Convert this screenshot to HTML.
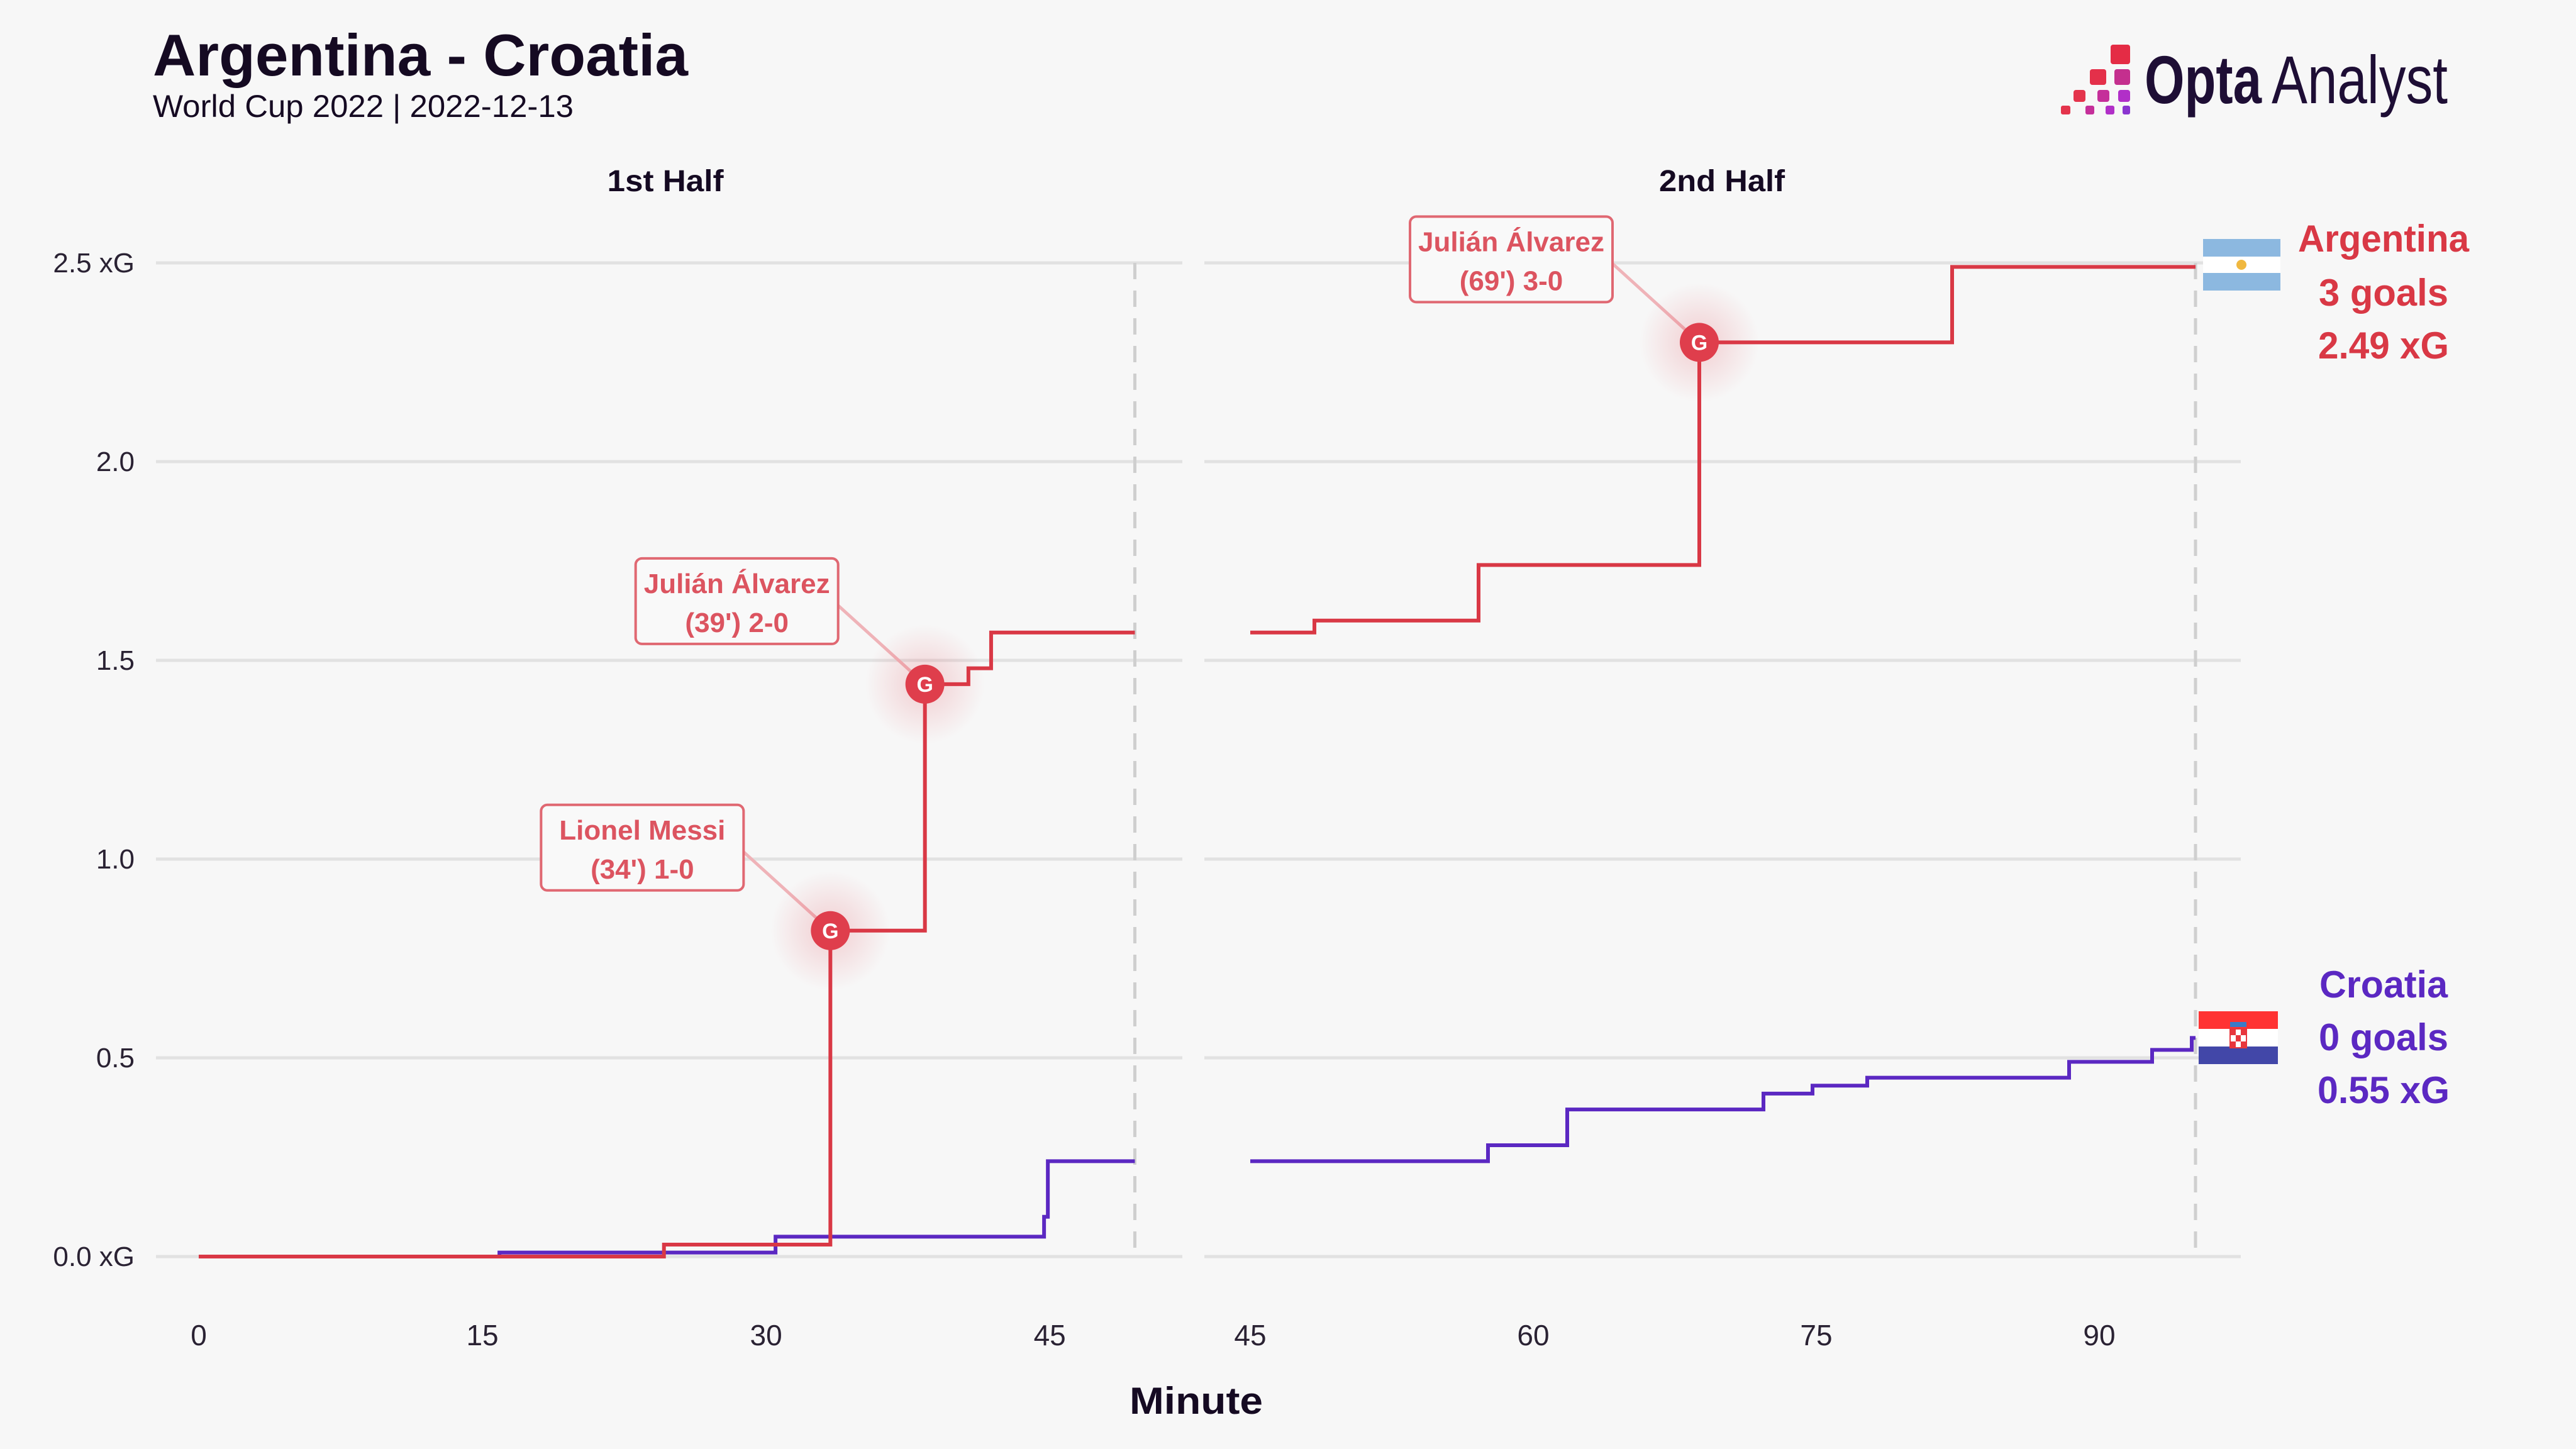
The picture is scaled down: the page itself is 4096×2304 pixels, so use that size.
<!DOCTYPE html>
<html><head><meta charset="utf-8"><style>
html,body{margin:0;padding:0;background:#f7f7f7;}
svg{display:block;font-family:"Liberation Sans Narrow","Liberation Sans",sans-serif;}
</style></head><body>
<svg id="chart" width="4096" height="2304" viewBox="0 0 4096 2304" xmlns="http://www.w3.org/2000/svg">
<defs>
<radialGradient id="glow"><stop offset="0" stop-color="#e03a48" stop-opacity="0.22"/><stop offset="1" stop-color="#e03a48" stop-opacity="0"/></radialGradient>
</defs>
<rect width="4096" height="2304" fill="#f7f7f7"/>
<text x="243" y="120" font-size="94" font-weight="bold" fill="#150a22" textLength="851" lengthAdjust="spacingAndGlyphs">Argentina - Croatia</text>
<text x="243" y="186" font-size="50" fill="#150a22" textLength="669" lengthAdjust="spacingAndGlyphs">World Cup 2022 | 2022-12-13</text>
<g>
<rect x="3356" y="71" width="31" height="31" rx="4" fill="#e42c45"/>
<rect x="3323" y="110" width="26" height="25" rx="4" fill="#e4304a"/>
<rect x="3362" y="110" width="25" height="25" rx="4" fill="#c42f8e"/>
<rect x="3297" y="143" width="19" height="19" rx="4" fill="#e4344c"/>
<rect x="3335" y="143" width="19" height="19" rx="4" fill="#c52f9a"/>
<rect x="3368" y="143" width="19" height="19" rx="4" fill="#b12fc8"/>
<rect x="3277" y="168" width="15" height="14" rx="3" fill="#e4344c"/>
<rect x="3316" y="168" width="14" height="14" rx="3" fill="#c52f9a"/>
<rect x="3348" y="168" width="14" height="14" rx="3" fill="#b12fc8"/>
<rect x="3375" y="168" width="12" height="14" rx="3" fill="#8a35d0"/>
<text x="3410" y="164" font-size="108" font-weight="bold" fill="#1e0e35" textLength="186" lengthAdjust="spacingAndGlyphs">Opta</text>
<text x="3612" y="164" font-size="108" fill="#1e0e35" textLength="280" lengthAdjust="spacingAndGlyphs">Analyst</text>
</g>
<text x="1058" y="304" font-size="48" font-weight="bold" text-anchor="middle" fill="#150a22" textLength="185" lengthAdjust="spacingAndGlyphs">1st Half</text>
<text x="2738" y="304" font-size="48" font-weight="bold" text-anchor="middle" fill="#150a22" textLength="200" lengthAdjust="spacingAndGlyphs">2nd Half</text>
<g id="grid"></g>
<g id="lines"></g>
<g id="annos"></g>
<text x="1902" y="2248" font-size="60" font-weight="bold" text-anchor="middle" fill="#150a22" textLength="212" lengthAdjust="spacingAndGlyphs">Minute</text>
<g>
<rect x="3503" y="380" width="123" height="82" fill="#ffffff"/>
<rect x="3503" y="380" width="123" height="28" fill="#8cb8e0"/>
<rect x="3503" y="434" width="123" height="28" fill="#8cb8e0"/>
<circle cx="3564" cy="421" r="8" fill="#f0b840"/>
</g>
<g>
<rect x="3496" y="1608" width="126" height="84" fill="#ffffff"/>
<rect x="3496" y="1608" width="126" height="28" fill="#ff3333"/>
<rect x="3496" y="1664" width="126" height="28" fill="#4247a8"/>
<rect x="3546" y="1625" width="26" height="8" fill="#3b7bc8"/>
<rect x="3546" y="1636" width="26" height="30" fill="#ffffff" stroke="#e8363d" stroke-width="2"/>
<rect x="3546" y="1636" width="9" height="10" fill="#e8363d"/><rect x="3563" y="1636" width="9" height="10" fill="#e8363d"/>
<rect x="3555" y="1646" width="8" height="10" fill="#e8363d"/>
<rect x="3546" y="1656" width="9" height="10" fill="#e8363d"/><rect x="3563" y="1656" width="9" height="10" fill="#e8363d"/>
</g>
<g font-size="60" font-weight="bold" text-anchor="middle">
<text x="3790" y="400" fill="#d93845" textLength="272" lengthAdjust="spacingAndGlyphs">Argentina</text>
<text x="3790" y="486" fill="#d93845" textLength="206" lengthAdjust="spacingAndGlyphs">3 goals</text>
<text x="3790" y="570" fill="#d93845" textLength="208" lengthAdjust="spacingAndGlyphs">2.49 xG</text>
<text x="3790" y="1586" fill="#5b28c2" textLength="204" lengthAdjust="spacingAndGlyphs">Croatia</text>
<text x="3790" y="1670" fill="#5b28c2" textLength="206" lengthAdjust="spacingAndGlyphs">0 goals</text>
<text x="3790" y="1754" fill="#5b28c2" textLength="210" lengthAdjust="spacingAndGlyphs">0.55 xG</text>
</g>
</svg>
<script>
const yTicks = [0, 0.5, 1.0, 1.5, 2.0, 2.5];
const yTickLabels = ["0.0 xG", "0.5", "1.0", "1.5", "2.0", "2.5 xG"];
const xTicksFirst = [0, 15, 30, 45];
const xTicksSecond = [45, 60, 75, 90];
const firstHalfEnd = 49.5;
const secondHalfEnd = 95.1;
const argFirstMin = [0, 24.6, 33.4, 38.4, 40.7, 41.9];
const argFirstXg = [0, 0.03, 0.82, 1.44, 1.48, 1.57];
const croFirstMin = [0, 15.9, 30.5, 44.7, 44.9];
const croFirstXg = [0, 0.01, 0.05, 0.10, 0.24];
const argSecondMin = [45, 48.4, 57.1, 68.8, 82.2];
const argSecondXg = [1.57, 1.60, 1.74, 2.30, 2.49];
const croSecondMin = [45, 57.6, 61.8, 72.2, 74.8, 77.7, 88.4, 92.8, 94.9];
const croSecondXg = [0.24, 0.28, 0.37, 0.41, 0.43, 0.45, 0.49, 0.52, 0.55];
const goalMinutes = [33.4, 38.4, 68.8];
const goalXg = [0.82, 1.44, 2.30];
const goalHalf = [1, 1, 2];
const goalLine1 = ["Lionel Messi", "Julián Álvarez", "Julián Álvarez"];
const goalLine2 = ["(34') 1-0", "(39') 2-0", "(69') 3-0"];

const NS = "http://www.w3.org/2000/svg";
const xL = m => 316 + m * 30.07;
const xR = m => 1988 + (m - 45) * 30.0;
const y = v => 1998 - v * 632;
function mk(tag, attrs, parent){const e=document.createElementNS(NS,tag);for(const k in attrs)e.setAttribute(k,attrs[k]);parent.appendChild(e);return e;}
const grid=document.getElementById('grid'), lines=document.getElementById('lines'), annos=document.getElementById('annos');

yTicks.forEach((v,i)=>{
  let g1=mk('line',{x1:248,x2:1880,y1:y(v),y2:y(v),stroke:'#e2e2e2','stroke-width':5},grid);
  
  
  let g2=mk('line',{x1:1915,x2:3563,y1:y(v),y2:y(v),stroke:'#e2e2e2','stroke-width':5},grid);
  
  
  let t=mk('text',{x:214,y:y(v)+15,'font-size':44,'text-anchor':'end',fill:'#2a2233'},grid);
  t.textContent=yTickLabels[i];
  
  
});
xTicksFirst.forEach(m=>{
  let t=mk('text',{x:xL(m),y:2139,'font-size':46,'text-anchor':'middle',fill:'#2a2233'},grid);
  t.textContent=m;
  
  
});
xTicksSecond.forEach(m=>{
  let t=mk('text',{x:xR(m),y:2139,'font-size':46,'text-anchor':'middle',fill:'#2a2233'},grid);
  t.textContent=m;
  
  
});
let d1=mk('line',{x1:xL(firstHalfEnd),x2:xL(firstHalfEnd),y1:y(2.5),y2:y(0),stroke:'#cfcfcf','stroke-width':5,'stroke-dasharray':'26 18'},grid);


let d2=mk('line',{x1:xR(secondHalfEnd),x2:xR(secondHalfEnd),y1:y(2.5),y2:y(0),stroke:'#cfcfcf','stroke-width':5,'stroke-dasharray':'26 18'},grid);



function step(mins, vals, end, xf){
  let d='M'+xf(mins[0])+' '+y(vals[0]);
  for(let i=1;i<mins.length;i++){d+=' H'+xf(mins[i])+' V'+y(vals[i]);}
  d+=' H'+xf(end);return d;
}
[[croFirstMin,croFirstXg,firstHalfEnd,xL,'#5b28c2','croatia-line-first-half'],
 [croSecondMin,croSecondXg,secondHalfEnd,xR,'#5b28c2','croatia-line-second-half'],
 [argFirstMin,argFirstXg,firstHalfEnd,xL,'#d93845','argentina-line-first-half'],
 [argSecondMin,argSecondXg,secondHalfEnd,xR,'#d93845','argentina-line-second-half']].forEach(s=>{
  let p=mk('path',{d:step(s[0],s[1],s[2],s[3]),fill:'none',stroke:s[4],'stroke-width':6},lines);
  
  
});

goalMinutes.forEach((m,i)=>{
  const cx=(goalHalf[i]===1?xL:xR)(m), cy=y(goalXg[i]);
  const bw=322, bh=136, bx=cx-460, by=cy-200;
  let ln=mk('line',{x1:bx+bw,y1:by+bh*0.55,x2:cx,y2:cy,stroke:'#efb3b8','stroke-width':5},annos);
  
  
  let gl=mk('circle',{cx:cx,cy:cy,r:95,fill:'url(#glow)'},annos);
  
  
  let c=mk('circle',{cx:cx,cy:cy,r:31,fill:'#df3e4c'},annos);
  
  
  let g=mk('text',{x:cx,y:cy+12,'font-size':34,'font-weight':'bold','text-anchor':'middle',fill:'#ffffff'},annos);
  g.textContent='G';
  
  
  let b=mk('rect',{x:bx,y:by,width:bw,height:bh,rx:10,fill:'#f9f9f9',stroke:'#e06872','stroke-width':4},annos);
  
  
  let t1=mk('text',{x:bx+bw/2,y:by+55,'font-size':44,'font-weight':'bold','text-anchor':'middle',fill:'#dc5460'},annos);
  t1.textContent=goalLine1[i];
  
  
  let t2=mk('text',{x:bx+bw/2,y:by+117,'font-size':44,'font-weight':'bold','text-anchor':'middle',fill:'#dc5460'},annos);
  t2.textContent=goalLine2[i];
  
  
});
</script>
</body></html>
